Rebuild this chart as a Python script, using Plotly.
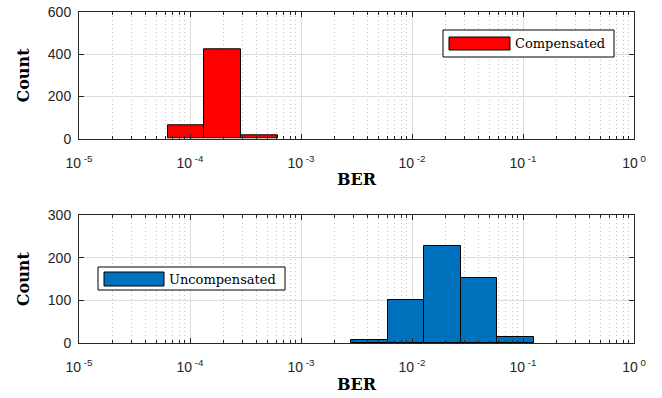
import numpy as np
import plotly.graph_objects as go

# ---- data ----
# bin edges expressed as log10(BER)
comp_bin_edges_log10 = [-4.20, -3.87, -3.54, -3.21]
comp_counts = [65, 424, 14]
uncomp_bin_edges_log10 = [-2.55, -2.22, -1.89, -1.56, -1.23, -0.90]
uncomp_counts = [8, 101, 227, 153, 14]

decades = [-5, -4, -3, -2, -1, 0]
decade_labels = ["10<sup>\u00a0-5</sup>", "10<sup>\u00a0-4</sup>", "10<sup>\u00a0-3</sup>",
                 "10<sup>\u00a0-2</sup>", "10<sup>\u00a0-1</sup>", "10<sup>\u00a00</sup>"]
top_yticks = [0, 200, 400, 600]
bottom_yticks = [0, 100, 200, 300]

series_names = ["Compensated", "Uncompensated"]
series_colors = ["#FF0000", "#0072BD"]

# ---- helpers ----
W, H = 662, 398
AX = "#262626"
GRID = "#dedede"
MINOR = "#c4c4c4"


def px(x):
    return x / W


def py(y):
    return 1 - y / H


def centers_widths(edges):
    e = np.asarray(edges, dtype=float)
    return (e[:-1] + e[1:]) / 2, np.diff(e)


minor_vals = [d + np.log10(k) for d in decades[:-1] for k in range(2, 10)]

fig = go.Figure()
for i, (edges, counts) in enumerate([(comp_bin_edges_log10, comp_counts),
                                      (uncomp_bin_edges_log10, uncomp_counts)]):
    c, w = centers_widths(edges)
    fig.add_trace(go.Bar(
        x=c, y=counts, width=w, name=series_names[i],
        marker=dict(color=series_colors[i], line=dict(color="black", width=1)),
        xaxis="x" if i == 0 else "x2", yaxis="y" if i == 0 else "y2",
        showlegend=False,
        hovertemplate="BER 10^%{x:.2f}<br>Count %{y}<extra></extra>",
    ))

tick_font = dict(family="Liberation Sans, Arial, sans-serif", size=14, color=AX)
title_font = dict(family="DejaVu Serif, serif", size=16, color="black", weight="bold")


def xaxis_cfg(anchor):
    return dict(
        domain=[px(79), px(634)], anchor=anchor, range=[-5, 0],
        tickmode="array", tickvals=decades, ticktext=decade_labels,
        ticks="inside", ticklen=5, tickcolor=AX, tickwidth=1,
        showline=True, linecolor=AX, linewidth=1, mirror="ticks",
        showgrid=True, gridcolor=GRID, gridwidth=1, zeroline=False,
        tickfont=tick_font, ticklabelstandoff=11,
        minor=dict(tickmode="array", tickvals=minor_vals, ticks="inside",
                   ticklen=3, tickcolor=AX, showgrid=True, gridcolor=MINOR,
                   griddash="1px,3px", gridwidth=1),
        title=dict(text="BER", font=title_font, standoff=4),
        automargin=False, fixedrange=True,
    )


def yaxis_cfg(anchor, dom, ticks_, rng):
    return dict(
        domain=dom, anchor=anchor, range=rng,
        tickmode="array", tickvals=ticks_,
        ticks="inside", ticklen=5, tickcolor=AX, tickwidth=1,
        showline=True, linecolor=AX, linewidth=1, mirror="ticks",
        showgrid=True, gridcolor=GRID, gridwidth=1, zeroline=False,
        tickfont=tick_font, ticklabelstandoff=4,
        title=dict(text="Count", font=title_font, standoff=14),
        automargin=False, fixedrange=True,
    )


fig.update_layout(
    width=W, height=H,
    margin=dict(l=0, r=0, t=0, b=0),
    paper_bgcolor="white", plot_bgcolor="white",
    bargap=0,
    xaxis=xaxis_cfg("y"),
    yaxis=yaxis_cfg("x", [py(138.7), py(12.3)], top_yticks, [0, 600]),
    xaxis2=xaxis_cfg("y2"),
    yaxis2=yaxis_cfg("x2", [py(343.3), py(215)], bottom_yticks, [0, 300]),
)

# ---- legends drawn as boxed keys (MATLAB style wide patch) ----
legend_boxes = [
    dict(box=(443, 30, 614, 57), patch=(449, 37, 510, 50), text_x=513, text_y=43.5),
    dict(box=(98, 267, 285, 290), patch=(104, 272, 164, 286), text_x=167, text_y=279),
]
for i, lb in enumerate(legend_boxes):
    x0, y0, x1, y1 = lb["box"]
    fig.add_shape(type="rect", xref="paper", yref="paper",
                  x0=px(x0), x1=px(x1), y0=py(y1), y1=py(y0),
                  line=dict(color="black", width=1), fillcolor="white", layer="above")
    x0, y0, x1, y1 = lb["patch"]
    fig.add_shape(type="rect", xref="paper", yref="paper",
                  x0=px(x0), x1=px(x1), y0=py(y1), y1=py(y0),
                  line=dict(color="black", width=1), fillcolor=series_colors[i], layer="above")
    fig.add_annotation(xref="paper", yref="paper", x=px(lb["text_x"]), y=py(lb["text_y"]),
                       xanchor="left", yanchor="middle", showarrow=False,
                       text=series_names[i],
                       font=dict(family="DejaVu Serif, serif", size=13, color="black"))

fig.write_html("out.html", config={"displayModeBar": False},
               post_script="document.body.style.margin='0px';")
